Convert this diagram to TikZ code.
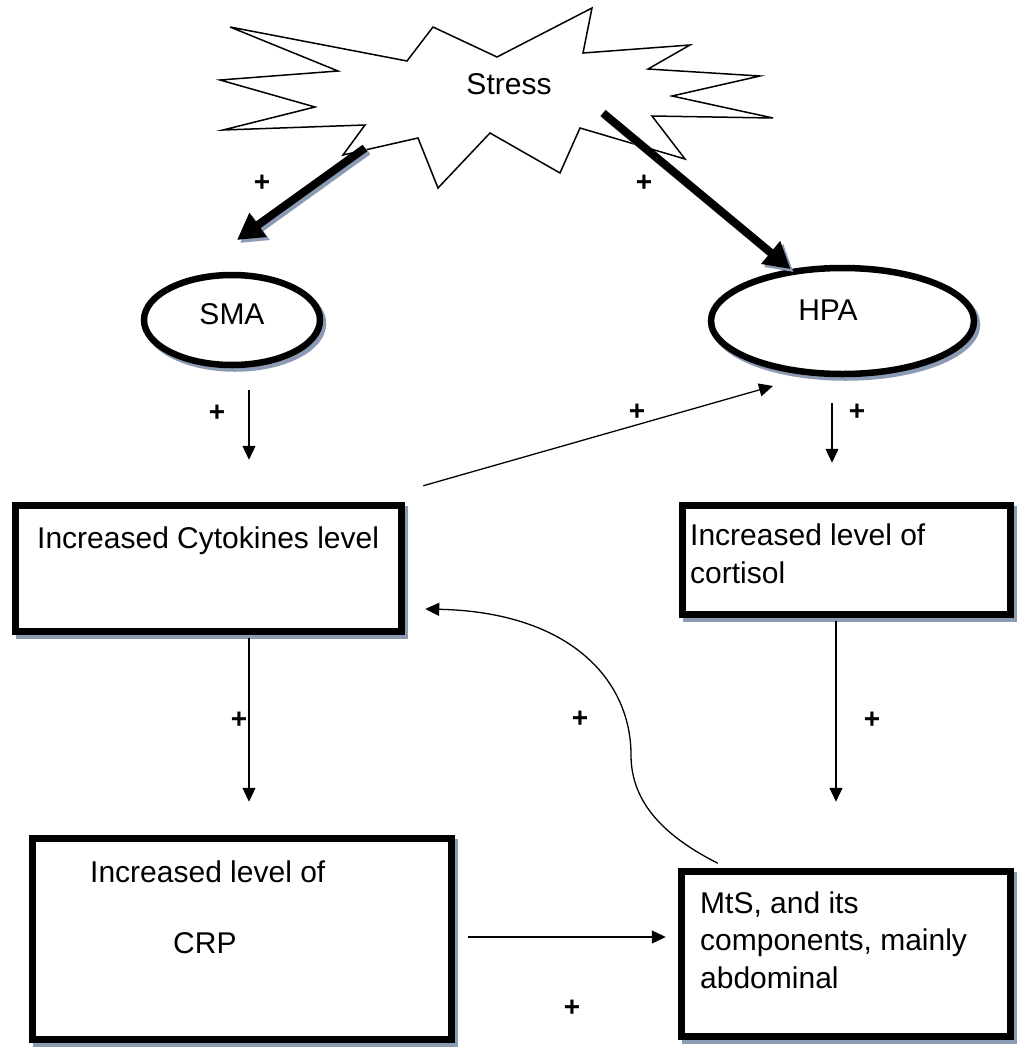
\documentclass[tikz,border=0pt]{standalone}
\usepackage{fontspec}
\setmainfont{Liberation Sans}
\usetikzlibrary{shapes.geometric,arrows.meta,shadows}
\definecolor{shadowblue}{RGB}{140,155,180}

\begin{document}
\begin{tikzpicture}[x=1pt, y=-1pt,
        box/.style={draw, line width=6.5pt, fill=white, inner sep=0pt,
                drop shadow={shadow xshift=3.5pt, shadow yshift=-4pt, fill=shadowblue, draw=shadowblue, line width=6.5pt, opacity=1}},
        oval/.style={ellipse, draw, line width=6.5pt, fill=white, inner sep=0pt,
                drop shadow={shadow xshift=3pt, shadow yshift=-3.5pt, fill=shadowblue, draw=shadowblue, line width=6.5pt, opacity=1}},
        txt/.style={font=\fontsize{30}{37.5}\selectfont, inner sep=0pt},
        plus/.style={font=\fontsize{28}{32}\selectfont\bfseries, inner sep=0pt},
        arr/.style={-{Triangle[length=14pt,width=13pt]}, line width=1.3pt},
        bigarr/.style={-{Triangle[length=26pt,width=28pt]}, line width=8pt},
        bigshadow/.style={bigarr, shadowblue},
        ]
                \useasboundingbox (0,0) rectangle (1018,1047);

                % the stress burst
                \draw[line width=1.5pt, fill=white] (230,27) -- (338,71) -- (220,80) -- (315,107)
                        -- (223,130) -- (365,125) -- (343,155) -- (418,138) -- (438,188)
                        -- (490,133) -- (560,173) -- (580,128) -- (685,159) -- (652,116)
                        -- (773,118) -- (672,96) -- (760,76) -- (648,69) -- (690,45)
                        -- (583,53) -- (592,8) -- (497,57) -- (433,27) -- (407,61) -- cycle;
                \node[txt] (stress) at (509,84) {Stress};

                \node[oval, minimum width=176pt, minimum height=90pt] (sma) at (232,320) {};
                \node[oval, minimum width=263pt, minimum height=106pt] (hpa) at (842.5,321) {};
                \node[txt] (smatext) at (232,314) {SMA};
                \node[txt] (hpatext) at (828,310) {HPA};

                \node[box, minimum width=386pt, minimum height=126pt] (cyto) at (208.5,568.5) {};
                \node[box, minimum width=328pt, minimum height=109pt] (cort) at (846.5,560) {};
                \node[box, minimum width=419pt, minimum height=201pt] (crp) at (242,939) {};
                \node[box, minimum width=329pt, minimum height=165pt] (mts) at (846,954) {};

                \node[txt, anchor=base west] (cytotext) at (37,548) {Increased Cytokines level};
                \node[txt, anchor=base west, align=left] (corttext) at (690,583) {Increased level of\\cortisol};
                \node[txt, anchor=base west] (crptext) at (90,882) {Increased level of};
                \node[txt, anchor=base west] (crpname) at (173,953) {CRP};
                \node[txt, anchor=base west, align=left] (mtstext) at (700,988) {MtS, and its\\components, mainly\\abdominal};

                % thick arrows out of the burst
                \draw[bigshadow] ([shift={(-141,67)}]stress.center) -- ([shift={(8,-77)}]sma.center);
                \draw[bigarr] ([shift={(-144,64)}]stress.center) -- ([shift={(5,-80)}]sma.center);
                \draw[bigshadow] ([shift={(97,32)}]stress.center) -- ([shift={(3,3)}]hpa.135);
                \draw[bigarr] ([shift={(94,29)}]stress.center) -- (hpa.135);

                \draw[arr, shorten <=22pt, shorten >=42.5pt] ([xshift=17pt]sma.south) -- ([xshift=17pt]sma.south |- cyto.north);
                \draw[arr, shorten <=26pt, shorten >=39.5pt] ([xshift=-10.5pt]hpa.south) -- ([xshift=-10.5pt]hpa.south |- cort.north);
                \draw[arr] ([shift={(18.5,-16.5)}]cyto.north east) -- ([shift={(-69.5,65)}]hpa.center);
                \draw[arr, shorten <=3.5pt, shorten >=33.5pt] ([xshift=40.5pt]cyto.south) -- ([xshift=40.5pt]cyto.south |- crp.north);
                \draw[arr, shorten <=3.5pt, shorten >=66.5pt] ([xshift=-10.5pt]cort.south) -- ([xshift=-10.5pt]cort.south |- mts.north);
                \draw[arr, shorten <=13.5pt, shorten >=12.5pt] ([yshift=2pt]crp.east) -- ([yshift=2pt]crp.east -| mts.west);
                \draw[arr] ([shift={(39.5,-5)}]mts.north west) .. controls (668,838) and (631,805) .. (631,755)
                        .. controls (631,680) and (570,612) .. ([shift={(20.5,40.5)}]cyto.east);

                \node[plus] (p1) at (262,183) {+};
                \node[plus] (p2) at (644,183) {+};
                \node[plus] (p3) at (217,413) {+};
                \node[plus] (p4) at (857,412) {+};
                \node[plus] (p5) at (637,412) {+};
                \node[plus] (p6) at (239,720) {+};
                \node[plus] (p7) at (872,720) {+};
                \node[plus] (p8) at (580,719) {+};
                \node[plus] (p9) at (572,1008) {+};
\end{tikzpicture}
\end{document}
